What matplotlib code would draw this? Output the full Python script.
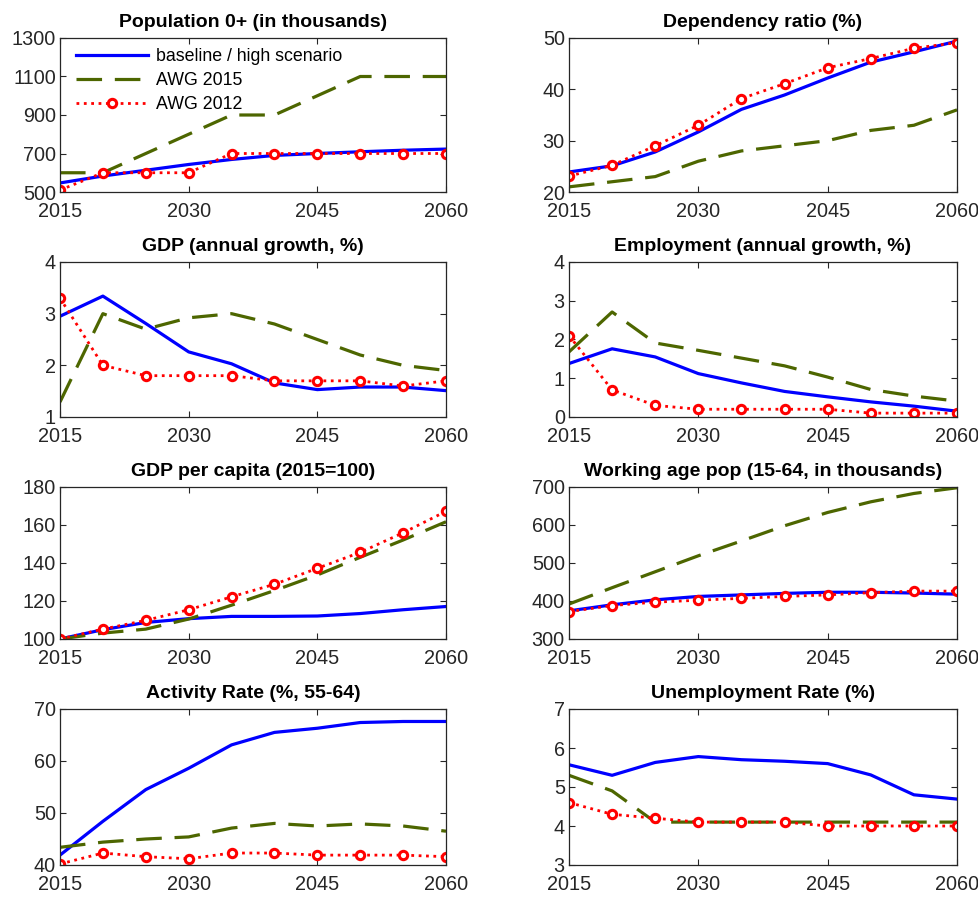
import matplotlib
matplotlib.use('Agg')
from matplotlib import pyplot as plt

years = [2015, 2020, 2025, 2030, 2035, 2040, 2045, 2050, 2055, 2060]

# population 0+ (thousands)
pop_base = [547, 583, 613, 643, 669, 690, 700, 709, 717, 723]
pop_awg15 = [600, 600, 700, 800, 900, 900, 1000, 1100, 1100, 1100]
pop_awg12 = [510, 600, 600, 600, 700, 700, 700, 700, 700, 700]

# dependency ratio (%)
dep_base = [23.9, 25.1, 27.8, 31.7, 36.1, 38.9, 42.2, 45.3, 47.3, 49.4]
dep_awg15 = [21, 22, 23, 26, 28, 29, 30, 32, 33, 36]
dep_awg12 = [23.1, 25.2, 29.0, 33.0, 38.2, 41.1, 44.2, 46.0, 48.0, 49.1]

# GDP annual growth (%)
gdp_base = [2.95, 3.34, 2.81, 2.26, 2.03, 1.66, 1.53, 1.58, 1.58, 1.51]
gdp_awg15 = [1.29, 3.0, 2.7, 2.92, 3.0, 2.8, 2.5, 2.2, 2.0, 1.9]
gdp_awg12 = [3.3, 2.0, 1.8, 1.8, 1.8, 1.7, 1.7, 1.7, 1.6, 1.7]

# employment annual growth (%)
emp_base = [1.38, 1.76, 1.55, 1.12, 0.88, 0.66, 0.52, 0.39, 0.28, 0.15]
emp_awg15 = [1.68, 2.71, 1.91, 1.72, 1.52, 1.32, 1.03, 0.71, 0.54, 0.41]
emp_awg12 = [2.1, 0.7, 0.3, 0.2, 0.2, 0.2, 0.2, 0.1, 0.1, 0.1]

# GDP per capita (2015=100)
gdppc_base = [100, 104.9, 108.7, 110.7, 111.9, 111.9, 112.1, 113.4, 115.4, 117.1]
gdppc_awg15 = [100, 103.1, 105.2, 110.5, 117.8, 125.5, 133.7, 143.0, 152.1, 161.7]
gdppc_awg12 = [100, 105.2, 109.8, 115.4, 122.2, 128.8, 137.2, 145.6, 155.9, 167.2]

# working age population 15-64 (thousands)
wap_base = [374, 390, 403, 412, 416, 420, 423, 423, 421, 418]
wap_awg15 = [392, 435, 477, 519, 558, 598, 633, 661, 683, 698]
wap_awg12 = [372, 388, 397, 402, 407, 412, 416, 422, 426, 426]

# activity rate 55-64 (%)
act_base = [41.9, 48.4, 54.5, 58.6, 63.1, 65.5, 66.3, 67.4, 67.6, 67.6]
act_awg15 = [43.4, 44.4, 45.0, 45.4, 47.1, 48.0, 47.5, 47.9, 47.5, 46.5]
act_awg12 = [40.2, 42.3, 41.6, 41.2, 42.3, 42.3, 41.9, 41.9, 41.9, 41.6]

# unemployment rate (%)
unemp_base = [5.57, 5.30, 5.63, 5.78, 5.70, 5.66, 5.60, 5.31, 4.80, 4.69]
unemp_awg15 = [5.3, 4.9, 4.1, 4.1, 4.1, 4.1, 4.1, 4.1, 4.1, 4.1]
unemp_awg12 = [4.6, 4.3, 4.2, 4.1, 4.1, 4.1, 4.0, 4.0, 4.0, 4.0]

panels = [
    ('Population 0+ (in thousands)', pop_base, pop_awg15, pop_awg12, (500, 1300), [500, 700, 900, 1100, 1300]),
    ('Dependency ratio (%)', dep_base, dep_awg15, dep_awg12, (20, 50), [20, 30, 40, 50]),
    ('GDP (annual growth, %)', gdp_base, gdp_awg15, gdp_awg12, (1, 4), [1, 2, 3, 4]),
    ('Employment (annual growth, %)', emp_base, emp_awg15, emp_awg12, (0, 4), [0, 1, 2, 3, 4]),
    ('GDP per capita (2015=100)', gdppc_base, gdppc_awg15, gdppc_awg12, (100, 180), [100, 120, 140, 160, 180]),
    ('Working age pop (15-64, in thousands)', wap_base, wap_awg15, wap_awg12, (300, 700), [300, 400, 500, 600, 700]),
    ('Activity Rate (%, 55-64)', act_base, act_awg15, act_awg12, (40, 70), [40, 50, 60, 70]),
    ('Unemployment Rate (%)', unemp_base, unemp_awg15, unemp_awg12, (3, 7), [3, 4, 5, 6, 7]),
]

plt.rcParams['font.family'] = ['Liberation Sans', 'DejaVu Sans']

W, H = 979, 898
fig = plt.figure(figsize=(W / 100, H / 100), dpi=100)

col_x = [(60, 446), (569, 957)]
row_y = [(38, 192), (262, 417), (487, 639), (709, 865)]

for i, (title, base, awg15, awg12, ylim, yticks) in enumerate(panels):
    x0, x1 = col_x[i % 2]
    y0, y1 = row_y[i // 2]
    ax = fig.add_axes([x0 / W, 1 - y1 / H, (x1 - x0) / W, (y1 - y0) / H])

    ax.plot(years, base, color='#0000ff', lw=2.3, label='baseline / high scenario')
    ax.plot(years, awg15, color='#4d6600', lw=2.3, dashes=(8, 4), label='AWG 2015')
    ax.plot(years, awg12, color='#ff0000', lw=2.0, ls=':', marker='o', ms=6,
            mfc='white', mec='#ff0000', mew=2.2, label='AWG 2012')

    ax.set_xlim(2015, 2060)
    ax.set_ylim(*ylim)
    ax.set_xticks([2015, 2030, 2045, 2060])
    ax.set_yticks(yticks)
    ax.tick_params(direction='in', top=True, right=True, labelsize=14.3,
                   colors='#262626', length=4, width=0.8, pad=3)
    ax.tick_params(axis='x', pad=7)
    for s in ax.spines.values():
        s.set_color('#262626')
        s.set_linewidth(0.9)
    ax.set_title(title, fontsize=14, fontweight='bold', pad=8)

    if i == 0:
        ax.legend(loc='upper left', bbox_to_anchor=(0.015, 1.0), frameon=False,
                  fontsize=12.8, handlelength=4.1, handletextpad=0.45,
                  borderaxespad=0.15, labelspacing=0.4)

fig.savefig('out.png', dpi=100)
